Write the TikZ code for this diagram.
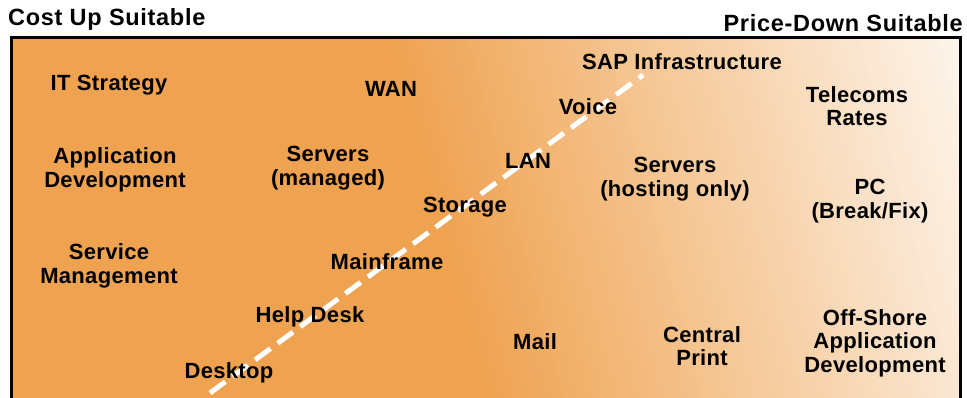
\documentclass[tikz,border=0pt]{standalone}
\usepackage{fontspec}
\newfontfamily\lblfont{Liberation Sans Bold}[LetterSpace=1.5]
\newfontfamily\headfont{Liberation Sans Bold}[LetterSpace=3]
\usepackage{tikz}
\definecolor{costorange}{RGB}{239,162,80}
\definecolor{pricewhite}{RGB}{254,251,247}

\begin{document}
\begin{tikzpicture}[
    x=1pt, y=-1pt,
    lbl/.style={
        align=center,
        inner sep=0pt,
        yshift=-2pt,
        font=\lblfont\fontsize{22}{23.5}\selectfont
    },
    heading/.style={
        inner sep=0pt,
        font=\headfont\fontsize{23.5}{25}\selectfont
    },
    frame/.style={draw=black, line width=3pt},
    divide/.style={draw=white, line width=5pt, dash pattern=on 19pt off 9pt}
]
\useasboundingbox (0,0) rectangle (967,397);

% Background: solid orange, fading to white on the right
\fill[costorange] (11,37) rectangle (960.5,430);
\begin{scope}
    \clip (381,37) -- (960.5,37) -- (960.5,430) -- (477,430) -- cycle;
    \begin{scope}[shift={(429,217)}, rotate=15]
        \foreach \i in {0,...,85} {
            \pgfmathsetmacro{\p}{100*\i/85}
            \fill[pricewhite!\p!costorange] (7*\i,-420) rectangle (7*\i+7.6,420);
        }
        \fill[pricewhite] (602,-420) rectangle (700,420);
    \end{scope}
\end{scope}
\draw[frame] (11,430) -- (11,37) -- (960.5,37) -- (960.5,430);

% Headings
\node[heading, anchor=west] (costup) at (8,19.5) {Cost Up Suitable};
\node[heading, anchor=east] (pricedown) at (963,23) {Price-Down Suitable};

% Dividing line
\coordinate (dashlow) at (210,393);
\coordinate (dashhigh) at (643,75);
\draw[divide] (dashlow) -- (dashhigh);

% Left side: cost up
\node[lbl] (itstrat) at (109,83) {IT Strategy};
\node[lbl] (appdev) at (115,168) {Application\\Development};
\node[lbl] (servmgmt) at (109,264) {Service\\Management};
\node[lbl] (wan) at (391,87) {WAN};
\node[lbl] (servman) at (328,166) {Servers\\(managed)};
\node[lbl] (mainframe) at (387,260) {Mainframe};
\node[lbl] (helpdesk) at (310,315) {Help Desk};
\node[lbl] (desktop) at (229,371) {Desktop};

% Along the line
\node[lbl] (sap) at (682,60) {SAP Infrastructure};
\node[lbl] (voice) at (588,105) {Voice};
\node[lbl] (lan) at (528,159) {LAN};
\node[lbl] (storage) at (465,205) {Storage};

% Right side: price down
\node[lbl] (servhost) at (675,177) {Servers\\(hosting only)};
\node[lbl] (telecoms) at (857,104) {Telecoms\\Rates};
\node[lbl] (pcfix) at (870,199) {PC\\(Break/Fix)};
\node[lbl] (mail) at (535,340) {Mail};
\node[lbl] (print) at (702,344) {Central\\Print};
\node[lbl] (offshore) at (875,341) {Off-Shore\\Application\\Development};

\end{tikzpicture}
\end{document}
